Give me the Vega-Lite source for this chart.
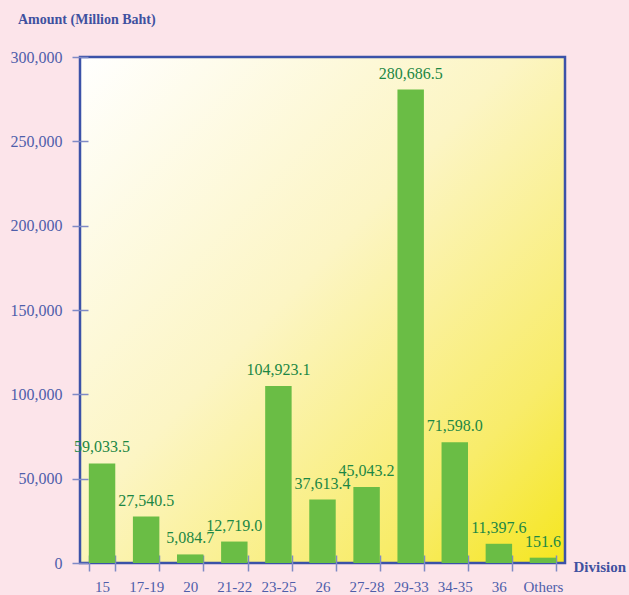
{
  "$schema": "https://vega.github.io/schema/vega-lite/v6.json",
  "autosize": {"type": "none"},
  "padding": {"left": 80, "top": 57, "right": 64, "bottom": 32},
  "width": 485,
  "height": 506,
  "background": "#fce4ea",
  "title": {
    "text": "Amount (Million Baht)",
    "anchor": "start",
    "frame": "group",
    "dx": -62,
    "offset": 22,
    "font": "Liberation Serif",
    "fontSize": 14,
    "fontWeight": "bold",
    "color": "#3f51a0"
  },
  "config": {
    "view": {
      "stroke": "#3b52a8",
      "strokeWidth": 2.5,
      "fill": {
        "gradient": "linear",
        "x1": 0, "y1": 0, "x2": 1, "y2": 1,
        "stops": [
          {"offset": 0, "color": "#ffffff"},
          {"offset": 0.45, "color": "#fcf5c4"},
          {"offset": 0.8, "color": "#f8ec6a"},
          {"offset": 1, "color": "#f5e61e"}
        ]
      }
    },
    "axis": {
      "labelFont": "Liberation Serif",
      "titleFont": "Liberation Serif",
      "labelColor": "#4f5eaa",
      "tickColor": "#7f8ac6",
      "tickWidth": 1.5,
      "domain": false,
      "grid": false
    }
  },
  "data": {
    "values": [
      {"division": "15", "amount": 59033.5, "label": "59,033.5"},
      {"division": "17-19", "amount": 27540.5, "label": "27,540.5"},
      {"division": "20", "amount": 5084.7, "label": "5,084.7"},
      {"division": "21-22", "amount": 12719.0, "label": "12,719.0"},
      {"division": "23-25", "amount": 104923.1, "label": "104,923.1"},
      {"division": "26", "amount": 37613.4, "label": "37,613.4"},
      {"division": "27-28", "amount": 45043.2, "label": "45,043.2"},
      {"division": "29-33", "amount": 280686.5, "label": "280,686.5"},
      {"division": "34-35", "amount": 71598.0, "label": "71,598.0"},
      {"division": "36", "amount": 11397.6, "label": "11,397.6"},
      {"division": "Others", "amount": 3151.6, "label": "151.6"}
    ]
  },
  "encoding": {
    "x": {
      "field": "division",
      "type": "nominal",
      "sort": null,
      "scale": {"paddingInner": 0.4, "paddingOuter": 0.2},
      "axis": {
        "labelAngle": 0,
        "labelFontSize": 15,
        "labelPadding": 8,
        "tickBand": "extent",
        "tickSize": 16,
        "offset": -8,
        "title": "Division",
        "titleAngle": 0,
        "titleAlign": "left",
        "titleBaseline": "middle",
        "titleX": 493,
        "titleY": 11,
        "titleFontSize": 15,
        "titleFontWeight": "bold",
        "titleColor": "#3f51a0"
      }
    },
    "y": {
      "field": "amount",
      "type": "quantitative",
      "scale": {"domain": [0, 300000], "nice": false},
      "axis": {
        "values": [0, 50000, 100000, 150000, 200000, 250000, 300000],
        "format": ",d",
        "labelFontSize": 16,
        "labelPadding": 10,
        "tickSize": 16,
        "offset": -8,
        "title": null
      }
    }
  },
  "layer": [
    {"mark": {"type": "bar", "color": "#6abd45"}},
    {
      "mark": {
        "type": "text",
        "baseline": "bottom",
        "dy": -8,
        "font": "Liberation Serif",
        "fontSize": 16,
        "color": "#1c8744"
      },
      "encoding": {"text": {"field": "label"}}
    }
  ]
}
